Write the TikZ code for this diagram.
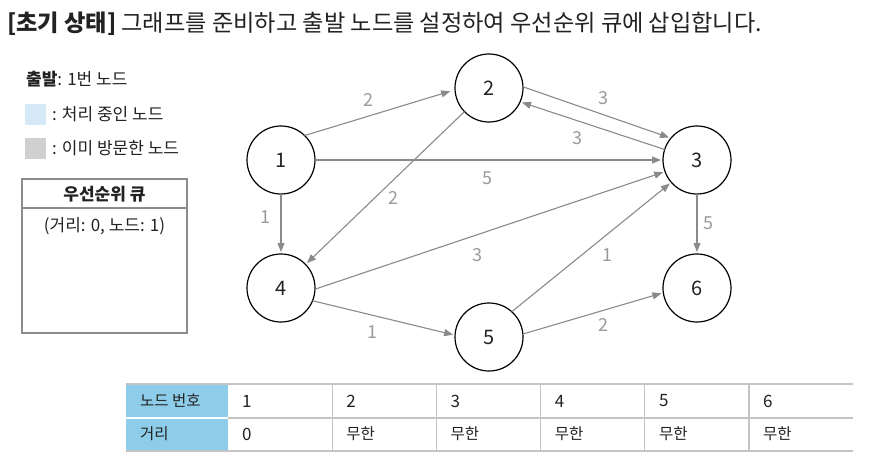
\documentclass[tikz,border=0pt]{standalone}
\usepackage{fontspec}
\setmainfont{Noto Sans CJK KR}
\usetikzlibrary{arrows.meta}
\definecolor{edgegray}{HTML}{8A8A8A}
\definecolor{labgray}{HTML}{9A9A9A}
\definecolor{hdrblue}{HTML}{8DCDE9}
\definecolor{procblue}{HTML}{D5EAF6}
\definecolor{visgray}{HTML}{D0D0D0}
\definecolor{tblline}{HTML}{C4C4C4}
\definecolor{qline}{HTML}{8C8C8C}
\definecolor{txt}{HTML}{222222}
\begin{document}
\begin{tikzpicture}[x=1pt,y=-1pt,
  gnode/.style={circle,draw=black,line width=1.2pt,minimum size=68pt,inner sep=0pt,outer sep=0pt,text=txt,font=\fontsize{20}{24}\selectfont},
  edge/.style={draw=edgegray,line width=1.1pt,-{Triangle[length=9pt,width=7pt]},shorten >=2pt},
  wlab/.style={text=labgray,font=\fontsize{18}{20}\selectfont,inner sep=0pt},
  legtxt/.style={anchor=west,inner sep=0pt,text=txt,font=\fontsize{17}{20}\selectfont},
  cell/.style={anchor=west,inner sep=0pt,text=txt,font=\fontsize{15.5}{18}\selectfont},
  numcell/.style={cell,font=\fontsize{17}{20}\selectfont},
  swatch/.style={minimum size=21pt,inner sep=0pt,outer sep=0pt}]
\useasboundingbox (0,0) rectangle (877,460);

% title
\node[anchor=west,inner sep=0pt,text=txt,font=\fontsize{23.2}{28}\selectfont] (title) at (7,24)
  {\textbf{[초기 상태]} 그래프를 준비하고 출발 노드를 설정하여 우선순위 큐에 삽입합니다.};

% legend
\node[legtxt] (start) at (26,79) {\textbf{출발}: 1번 노드};
\node[swatch,fill=procblue] (procsw) at (35.5,114) {};
\node[legtxt] (proctxt) at (52,114) {: 처리 중인 노드};
\node[swatch,fill=visgray] (vissw) at (35.5,148) {};
\node[legtxt] (vistxt) at (52,148) {: 이미 방문한 노드};

% priority queue
\draw[qline,line width=1.4pt] (22,179) rectangle (187,333);
\draw[qline,line width=1.4pt] (22,208) -- (187,208);
\node[inner sep=0pt,text=txt,font=\fontsize{17}{20}\selectfont\bfseries] (qhead) at (104.5,194) {우선순위 큐};
\node[inner sep=0pt,text=txt,font=\fontsize{17}{20}\selectfont] (qitem) at (104.5,226) {(거리: 0, 노드: 1)};

% graph nodes
\node[gnode] (n1) at (281,160) {1};
\node[gnode] (n2) at (489,88) {2};
\node[gnode] (n3) at (697,160) {3};
\node[gnode] (n4) at (281,288) {4};
\node[gnode] (n5) at (489,337) {5};
\node[gnode] (n6) at (697,288) {6};

% edges
\draw[edge,shorten >=5pt] (n1.46) -- (n2.183);
\draw[edge] (n1) -- (n3);
\draw[edge] (n1) -- (n4);
\draw[edge] (n2) -- (n4);
\draw[edge] (n2.2) -- (n3.140);
\draw[edge] (n3.162) -- (n2.-24);
\draw[edge] (n4.-2) -- (n3.200);
\draw[edge] (n4.-22) -- (n5.177);
\draw[edge] (n5.48) -- (n3.221);
\draw[edge] (n5.5) -- (n6.188);
\draw[edge] (n3) -- (n6);

% edge labels
\node[wlab] (l12) at (368,100) {2};
\node[wlab] (l13) at (487,178) {5};
\node[wlab] (l24) at (393,198) {2};
\node[wlab] (l23) at (603,98) {3};
\node[wlab] (l32) at (577,138) {3};
\node[wlab] (l14) at (265,217) {1};
\node[wlab] (l43) at (477,255) {3};
\node[wlab] (l45) at (372,332) {1};
\node[wlab] (l53) at (607,255) {1};
\node[wlab] (l56) at (603,325) {2};
\node[wlab] (l36) at (708,223) {5};

% table
\fill[hdrblue] (126,384) rectangle (228,451);
\draw[white,line width=1.4pt] (126,418) -- (228,418);
\draw[tblline,line width=1.2pt] (228,418) -- (853,418);
\foreach \x in {332.2,436.4,540.6,644.8,749}{
  \draw[tblline,line width=1.2pt] (\x,384) -- (\x,451);
}
\draw[tblline,line width=2pt] (126,384) -- (853,384);
\draw[tblline,line width=2pt] (126,451) -- (853,451);
\node[cell] (hnum) at (140,401) {노드 번호};
\node[cell] (hdist) at (140,434) {거리};
\node[numcell] (dist1) at (242,434) {0};
\foreach \i [count=\k from 0] in {1,2,3,4,5,6}{
  \node[numcell] (num\i) at (242+104.2*\k,401) {\i};
}
\foreach \i [count=\k from 1] in {2,3,4,5,6}{
  \node[cell] (dist\i) at (242+104.2*\k,434) {무한};
}
\end{tikzpicture}
\end{document}
